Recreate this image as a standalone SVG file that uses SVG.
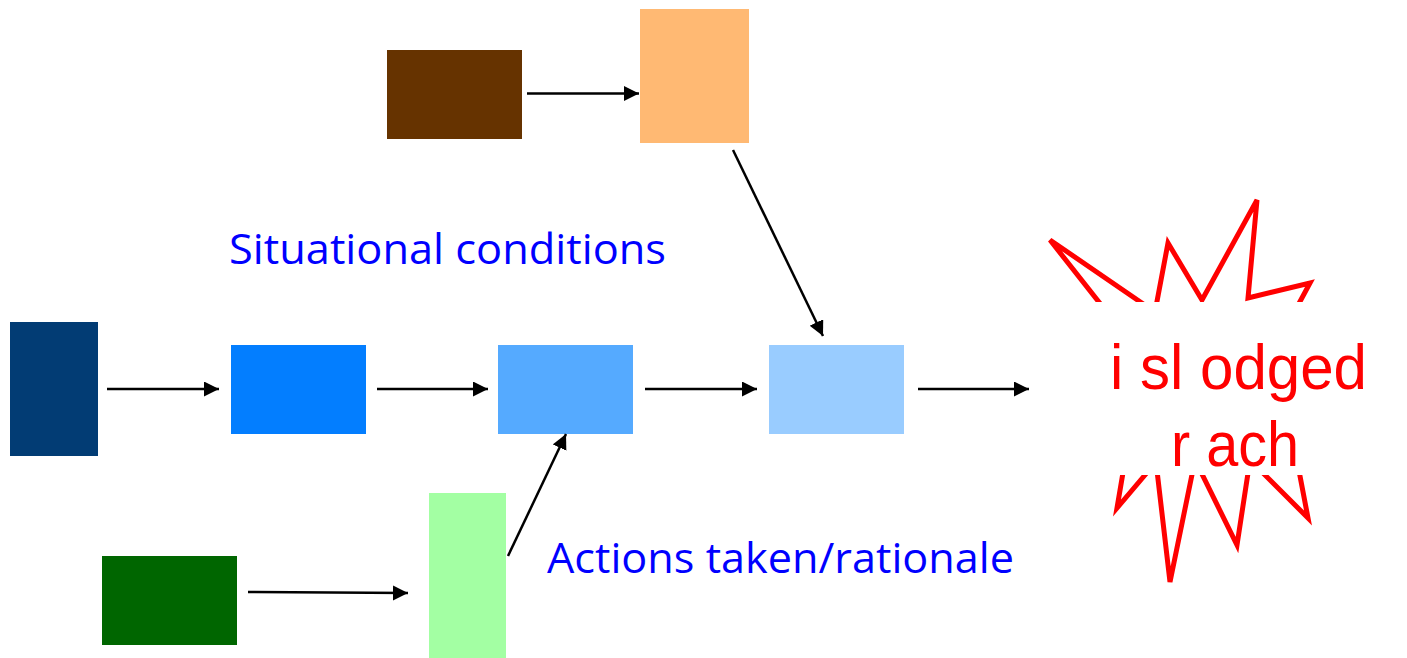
<svg xmlns="http://www.w3.org/2000/svg" width="1407" height="658" viewBox="0 0 1407 658">
<style>
.lbl{font-family:"Open Sans","Noto Sans","Liberation Sans",sans-serif;font-size:42px;fill:#0000FF}
.burst{font-family:"Liberation Sans",Arial,sans-serif;font-size:63px;fill:#FF0000}
.conn{stroke:#000;stroke-width:2.5;fill:none;marker-end:url(#ah)}
</style>
<defs>
<marker id="ah" markerUnits="userSpaceOnUse" markerWidth="16" markerHeight="16" refX="15" refY="7.5" orient="auto">
<path d="M0,0 L15,7.5 L0,15 z" fill="#000"/>
</marker>
</defs>
<rect width="1407" height="658" fill="#fff"/>
<g id="nodes">
<rect id="brown" x="387" y="50" width="135" height="89" fill="#663300"/>
<rect id="orange" x="640" y="9" width="109" height="134" fill="#FFB973"/>
<rect id="navy" x="10" y="322" width="88" height="134" fill="#023C74"/>
<rect id="blue" x="231" y="345" width="135" height="89" fill="#037EFF"/>
<rect id="midblue" x="498" y="345" width="135" height="89" fill="#55AAFF"/>
<rect id="lightblue" x="769" y="345" width="135" height="89" fill="#99CCFF"/>
<rect id="darkgreen" x="102" y="556" width="135" height="89" fill="#006600"/>
<rect id="lightgreen" x="429" y="493" width="77" height="165" fill="#A3FFA3"/>
</g>
<g id="starburst">
<polygon points="1100,382 1113,320 1050,240 1155,312 1168,243 1202,300 1257,200 1248,298 1310,283 1290,320 1395,385 1296,455 1308,518 1250,460 1237,545 1195,460 1170,582 1156,462 1117,508 1126,455" fill="none" stroke="#FF0000" stroke-width="5" stroke-linejoin="miter" stroke-miterlimit="4"/>
<rect x="1091" y="302" width="312" height="173" fill="#fff"/>
<text class="burst" x="1110" y="389" textLength="257" lengthAdjust="spacingAndGlyphs">i sl odged</text>
<text class="burst" x="1171" y="466" textLength="128" lengthAdjust="spacingAndGlyphs">r ach</text>
</g>
<g id="labels">
<text class="lbl" x="229" y="264" textLength="437" lengthAdjust="spacingAndGlyphs">Situational conditions</text>
<text class="lbl" x="547" y="573" textLength="467" lengthAdjust="spacingAndGlyphs">Actions taken/rationale</text>
</g>
<g id="connectors">
<line class="conn" x1="527" y1="93.5" x2="639" y2="93.5"/>
<line class="conn" x1="733" y1="150" x2="823" y2="336"/>
<line class="conn" x1="107" y1="389" x2="219" y2="389"/>
<line class="conn" x1="377" y1="389" x2="488" y2="389"/>
<line class="conn" x1="645" y1="389" x2="757" y2="389"/>
<line class="conn" x1="918" y1="389" x2="1029" y2="389"/>
<line class="conn" x1="248" y1="592" x2="408" y2="593"/>
<line class="conn" x1="508" y1="556" x2="566" y2="434"/>
</g>
</svg>
